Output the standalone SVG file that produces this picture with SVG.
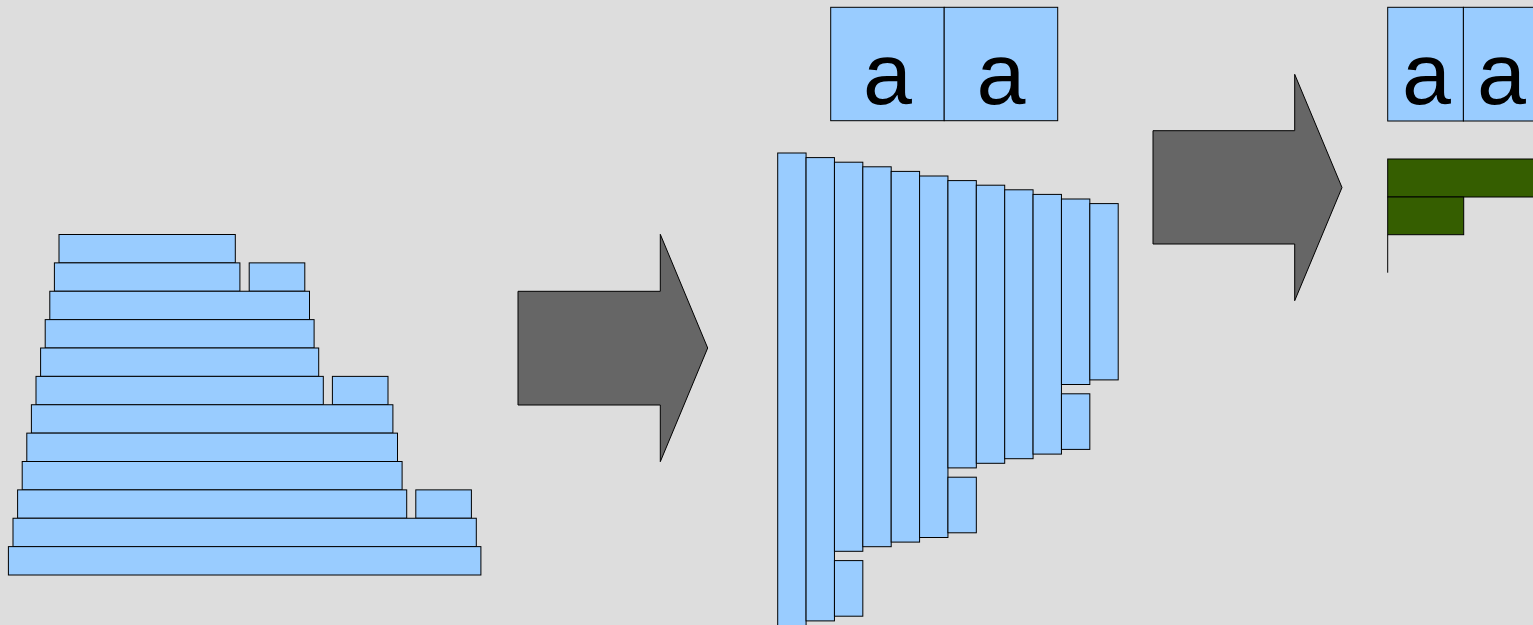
<svg xmlns="http://www.w3.org/2000/svg" width="1533" height="625" viewBox="0 0 1533 625">
  <style>
    .blk { fill: #99ccff; stroke: #000000; stroke-width: 1; }
    .grn { fill: #355e00; stroke: #000000; stroke-width: 1; }
    .arw { fill: #666666; stroke: #000000; stroke-width: 1; }
    .glyph { font-family: "Liberation Sans", Arial, sans-serif; font-size: 88px; fill: #000000; text-anchor: middle; }
  </style>
  <rect x="0" y="0" width="1533" height="625" fill="#dddddd"/>

  <!-- Left: horizontal stack of blocks -->
  <g id="stack-rows">
    <rect class="blk" x="59" y="234.5" width="176.3" height="28.375"/>
    <rect class="blk" x="54.4" y="262.875" width="185.5" height="28.375"/>
    <rect class="blk" x="249.2" y="262.875" width="55.6" height="28.375"/>
    <rect class="blk" x="49.8" y="291.25" width="259.7" height="28.375"/>
    <rect class="blk" x="45.2" y="319.625" width="268.9" height="28.375"/>
    <rect class="blk" x="40.6" y="348" width="278.1" height="28.375"/>
    <rect class="blk" x="36" y="376.375" width="287.3" height="28.375"/>
    <rect class="blk" x="332.4" y="376.375" width="55.6" height="28.375"/>
    <rect class="blk" x="31.4" y="404.75" width="361.5" height="28.375"/>
    <rect class="blk" x="26.8" y="433.125" width="370.7" height="28.375"/>
    <rect class="blk" x="22.2" y="461.5" width="379.9" height="28.375"/>
    <rect class="blk" x="17.6" y="489.875" width="389.1" height="28.375"/>
    <rect class="blk" x="415.8" y="489.875" width="55.6" height="28.375"/>
    <rect class="blk" x="13" y="518.25" width="463.3" height="28.375"/>
    <rect class="blk" x="8.4" y="546.625" width="472.5" height="28.375"/>
  </g>

  <!-- Middle: the same blocks turned into columns -->
  <g id="stack-columns">
    <rect class="blk" x="777.7" y="153" width="28.375" height="472.5"/>
    <rect class="blk" x="806.075" y="157.6" width="28.375" height="463.3"/>
    <rect class="blk" x="834.45" y="162.2" width="28.375" height="389.1"/>
    <rect class="blk" x="834.45" y="560.6" width="28.375" height="55.6"/>
    <rect class="blk" x="862.825" y="166.8" width="28.375" height="379.9"/>
    <rect class="blk" x="891.2" y="171.4" width="28.375" height="370.7"/>
    <rect class="blk" x="919.575" y="176" width="28.375" height="361.5"/>
    <rect class="blk" x="947.95" y="180.6" width="28.375" height="287.3"/>
    <rect class="blk" x="947.95" y="477.2" width="28.375" height="55.6"/>
    <rect class="blk" x="976.325" y="185.2" width="28.375" height="278.1"/>
    <rect class="blk" x="1004.7" y="189.8" width="28.375" height="268.9"/>
    <rect class="blk" x="1033.075" y="194.4" width="28.375" height="259.7"/>
    <rect class="blk" x="1061.45" y="199" width="28.375" height="185.5"/>
    <rect class="blk" x="1061.45" y="393.8" width="28.375" height="55.6"/>
    <rect class="blk" x="1089.825" y="203.6" width="28.375" height="176.3"/>
  </g>

  <!-- Middle: glyph cells -->
  <g id="glyphs-wide">
    <rect class="blk" x="830.7" y="7.3" width="113.5" height="113.4"/>
    <rect class="blk" x="944.2" y="7.3" width="113.5" height="113.4"/>
    <text class="glyph" x="887.5" y="104">a</text>
    <text class="glyph" x="1001" y="104">a</text>
  </g>

  <!-- Right: narrow glyph cells -->
  <g id="glyphs-narrow">
    <rect class="blk" x="1387.7" y="7.3" width="75.7" height="113.7"/>
    <rect class="blk" x="1463.4" y="7.3" width="75.7" height="113.7"/>
    <text class="glyph" x="1426.5" y="104">a</text>
    <text class="glyph" x="1501.5" y="104">a</text>
  </g>

  <!-- Right: resulting bars -->
  <g id="bars">
    <rect class="grn" x="1387.7" y="159" width="160" height="38"/>
    <rect class="grn" x="1387.7" y="197" width="76" height="37.7"/>
    <line x1="1387.7" y1="234.7" x2="1387.7" y2="272.7" stroke="#000000" stroke-width="1"/>
  </g>

  <!-- Block arrows between stages -->
  <g id="connectors">
    <polygon class="arw" points="518,291.3 660.3,291.3 660.3,234.3 707.7,348 660.3,461.7 660.3,405 518,405"/>
    <polygon class="arw" points="1153,130.7 1294.7,130.7 1294.7,74.3 1342,187.5 1294.7,300.7 1294.7,244 1153,244"/>
  </g>
</svg>
